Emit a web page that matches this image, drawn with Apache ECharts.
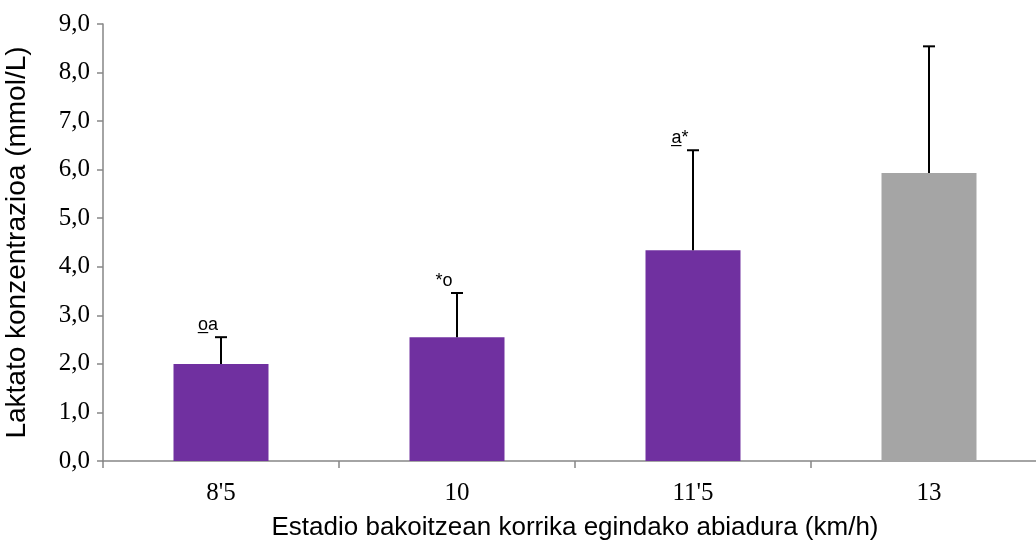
<!DOCTYPE html>
<html>
<head>
<meta charset="utf-8">
<script src="https://cdn.jsdelivr.net/npm/echarts@6/dist/echarts.min.js"></script>
<style>
  html, body { margin: 0; padding: 0; background: #fff; }
  #chart { width: 1036px; height: 549px; }
</style>
</head>
<body>
<div id="chart"></div>
<script>
// abiadura (km/h)
const categories = ["8'5", '10', "11'5", '13']
const meanValues = [2.0, 2.55, 4.34, 5.93]
const errorTops = [2.55, 3.46, 6.40, 8.54]
const marks = ['o\u0332a', '*o', 'a\u0332*', '']
const barColors = ['#7030A0', '#7030A0', '#7030A0', '#A5A5A5']
const yTicks = [0, 1, 2, 3, 4, 5, 6, 7, 8, 9]

const chart = echarts.init(document.getElementById('chart'), null, { renderer: 'canvas' })

const errorData = categories.map((c, i) => [i, meanValues[i], errorTops[i], marks[i]])

chart.setOption({
    animation: false,
    grid: {
        left: 103,
        top: 24,
        width: 944,
        height: 437,
        outerBoundsMode: 'none'
    },
    xAxis: {
        type: 'category',
        data: categories,
        name: 'Estadio bakoitzean korrika egindako abiadura (km/h)',
        nameLocation: 'middle',
        nameGap: 54,
        nameTextStyle: {
            fontFamily: 'Liberation Sans',
            fontSize: 26,
            color: '#000'
        },
        axisLine: { lineStyle: { color: '#868686', width: 1.5 } },
        axisTick: { show: true, length: 7, lineStyle: { color: '#868686', width: 1.5 } },
        axisLabel: {
            fontFamily: 'Liberation Serif',
            fontSize: 25,
            color: '#000',
            margin: 20
        }
    },
    yAxis: {
        type: 'value',
        min: yTicks[0],
        max: yTicks[yTicks.length - 1],
        interval: 1,
        name: 'Laktato konzentrazioa (mmol/L)',
        nameLocation: 'middle',
        nameGap: 72,
        nameTextStyle: {
            fontFamily: 'Liberation Sans',
            fontSize: 28,
            color: '#000'
        },
        axisLine: { show: true, lineStyle: { color: '#868686', width: 1.5 } },
        axisTick: { show: true, length: 6, lineStyle: { color: '#868686', width: 1.5 } },
        splitLine: { show: false },
        axisLabel: {
            fontFamily: 'Liberation Serif',
            fontSize: 25,
            color: '#000',
            margin: 13,
            formatter: function (v) {
                return v.toFixed(1).replace('.', ',')
            }
        }
    },
    series: [{
        type: 'bar',
        barWidth: 95,
        data: meanValues.map((v, i) => ({ value: v, itemStyle: { color: barColors[i] } }))
    }, {
        type: 'custom',
        data: errorData,
        z: 10,
        renderItem: function (params, api) {
            const base = api.coord([api.value(0), api.value(1)])
            const top = api.coord([api.value(0), api.value(2)])
            const cap = 6
            const children = [{
                type: 'line',
                shape: { x1: base[0], y1: base[1], x2: top[0], y2: top[1] },
                style: { stroke: '#000', lineWidth: 2 }
            }, {
                type: 'line',
                shape: { x1: top[0] - cap, y1: top[1], x2: top[0] + cap, y2: top[1] },
                style: { stroke: '#000', lineWidth: 2 }
            }]
            const mark = marks[params.dataIndex]
            if (mark) {
                children.push({
                    type: 'text',
                    style: {
                        x: top[0] - 13,
                        y: top[1] - 3,
                        text: mark,
                        align: 'center',
                        verticalAlign: 'bottom',
                        fontFamily: 'Liberation Sans',
                        fontSize: 18,
                        fill: '#000'
                    }
                })
            }
            return { type: 'group', children: children }
        }
    }]
})
</script>
</body>
</html>
